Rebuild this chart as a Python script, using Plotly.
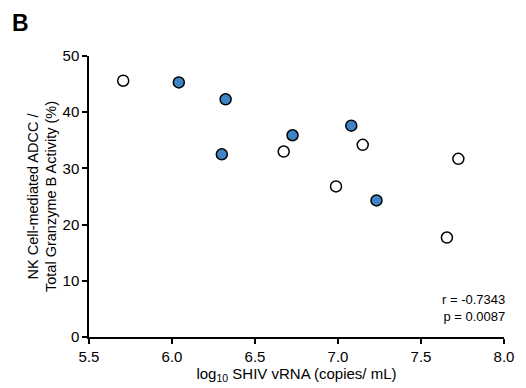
import plotly.graph_objects as go

open_x = [5.706, 6.673, 7.149, 6.988, 7.725, 7.656]
open_y = [45.6, 33.0, 34.2, 26.8, 31.7, 17.7]
blue_x = [6.041, 6.323, 6.300, 6.726, 7.080, 7.232]
blue_y = [45.3, 42.3, 32.5, 35.9, 37.6, 24.3]
x_ticks = [5.5, 6.0, 6.5, 7.0, 7.5, 8.0]
y_ticks = [0, 10, 20, 30, 40, 50]

FONT = "Liberation Sans, Arial, sans-serif"

fig = go.Figure()
fig.add_trace(go.Scatter(x=open_x, y=open_y, mode="markers",
                         marker=dict(size=11, color="white", line=dict(color="black", width=1.5)),
                         showlegend=False, cliponaxis=False))
fig.add_trace(go.Scatter(x=blue_x, y=blue_y, mode="markers",
                         marker=dict(size=11, color="#3F85C5", line=dict(color="black", width=1.5)),
                         showlegend=False, cliponaxis=False))

fig.update_layout(
    width=526, height=388,
    margin=dict(l=89, r=13, t=56, b=49),
    plot_bgcolor="white", paper_bgcolor="white",
    font=dict(family=FONT, size=15, color="black"),
    xaxis=dict(range=[5.5, 8.0], tickvals=x_ticks, ticktext=[f"{v:.1f}" for v in x_ticks],
               showline=True, linecolor="black", linewidth=1.5, ticks="outside",
               ticklen=5, tickwidth=1.5, tickcolor="black", showgrid=False, zeroline=False,
               tickfont=dict(size=15),
               title=dict(text="log<sub>10</sub> SHIV vRNA (copies/ mL)", font=dict(size=15), standoff=1)),
    yaxis=dict(range=[0, 50], tickvals=y_ticks,
               showline=True, linecolor="black", linewidth=1.5, ticks="outside",
               ticklen=5, tickwidth=1.5, tickcolor="black", showgrid=False, zeroline=False,
               tickfont=dict(size=15),
               title=dict(text="NK Cell-mediated ADCC /<br>Total Granzyme B Activity (%)",
                          font=dict(size=14.5), standoff=2)),
    annotations=[
        dict(text="<b>B</b>", x=-0.19, y=1.17, xref="paper", yref="paper", showarrow=False,
             xanchor="left", yanchor="top", font=dict(size=23)),
        dict(text="r = -0.7343<br>p = 0.0087", xref="paper", yref="paper", x=1.0, y=0.04,
             xanchor="right", yanchor="bottom", align="right", showarrow=False,
             xshift=3, font=dict(size=13)),
    ],
)
fig.write_html("out.html")
